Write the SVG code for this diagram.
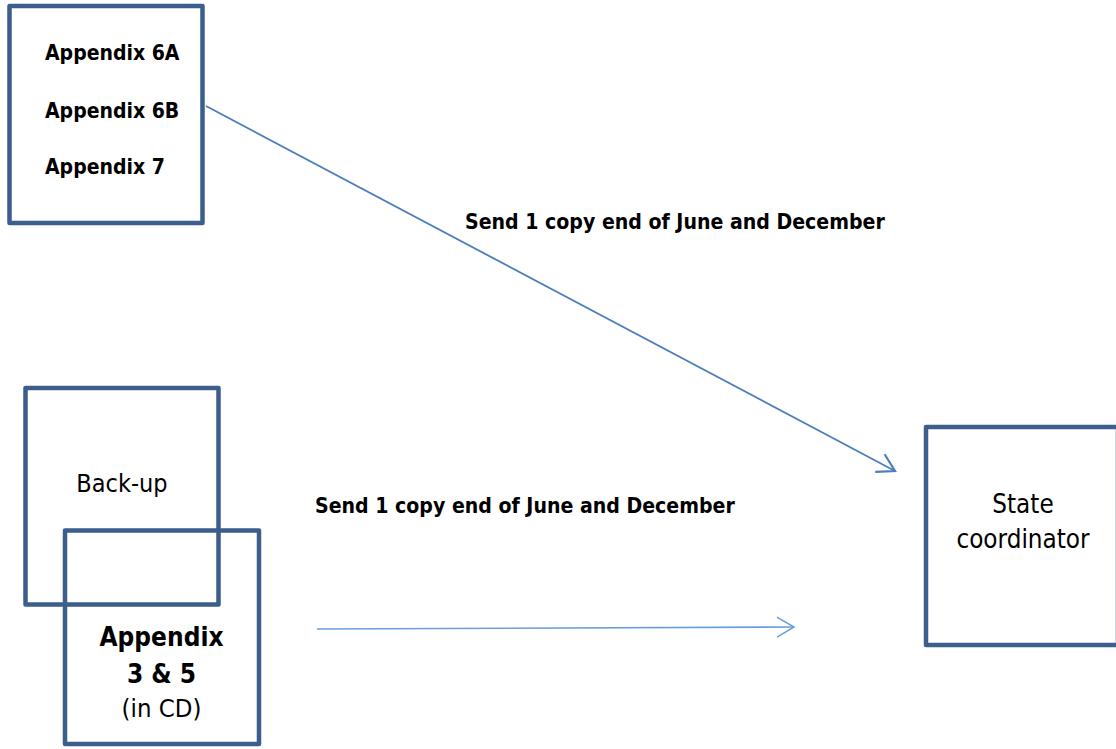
<svg xmlns="http://www.w3.org/2000/svg" width="1116" height="749" viewBox="0 0 1116 749">
<style>
.box{fill:none;stroke:#3b5e8c;stroke-width:4.5;stroke-linejoin:round}
.b{font-family:"DejaVu Sans Condensed","DejaVu Sans",sans-serif;font-stretch:condensed;font-weight:bold;fill:#000}
.r{font-family:"DejaVu Sans Condensed","DejaVu Sans",sans-serif;font-stretch:condensed;fill:#000}
.c1{fill:none;stroke:#4a7ebb;stroke-width:1.8}
.c2{fill:none;stroke:#6c9fd8;stroke-width:1.6}
</style>
<defs>
<marker id="ah1" markerUnits="userSpaceOnUse" markerWidth="30" markerHeight="30" refX="0" refY="0" viewBox="-22 -15 30 30" orient="auto" overflow="visible">
<path d="M-17,-10 L0,0 L-17,10" fill="none" stroke="#4a7ebb" stroke-width="2.2"/>
</marker>
<marker id="ah2" markerUnits="userSpaceOnUse" markerWidth="30" markerHeight="30" refX="0" refY="0" viewBox="-22 -15 30 30" orient="auto" overflow="visible">
<path d="M-17,-10 L0,0 L-17,10" fill="none" stroke="#6c9fd8" stroke-width="1.6"/>
</marker>
</defs>
<rect width="1116" height="749" fill="#fff"/>
<g id="connectors">
<path class="c1" d="M206,106 L895,471" marker-end="url(#ah1)"/>
<path class="c2" d="M317,629 L794,627" marker-end="url(#ah2)"/>
<text class="b" x="465" y="229" font-size="21.1">Send 1 copy end of June and December</text>
<text class="b" x="315" y="513" font-size="21.1">Send 1 copy end of June and December</text>
</g>
<g id="appendix-6-7">
<rect class="box" x="9.5" y="6" width="193" height="217"/>
<text class="b" x="45" y="60" font-size="21">Appendix 6A</text>
<text class="b" x="45" y="118" font-size="21">Appendix 6B</text>
<text class="b" x="45" y="174" font-size="21">Appendix 7</text>
</g>
<g id="backup">
<rect class="box" x="25.5" y="388" width="193" height="216.5"/>
<text class="r" x="122" y="492" font-size="25" text-anchor="middle">Back-up</text>
</g>
<g id="appendix-3-5">
<rect class="box" x="65" y="530.5" width="194" height="213.5"/>
<text class="b" x="161.5" y="646" font-size="26" text-anchor="middle">Appendix</text>
<text class="b" x="161.5" y="683" font-size="26" text-anchor="middle">3 &amp; 5</text>
<text class="r" x="161.5" y="717" font-size="25.5" text-anchor="middle">(in CD)</text>
</g>
<g id="state-coordinator">
<rect class="box" x="926" y="427" width="192" height="218"/>
<text class="r" x="1023" y="513" font-size="25.8" text-anchor="middle">State</text>
<text class="r" x="1023" y="548" font-size="25.8" text-anchor="middle">coordinator</text>
</g>
</svg>
